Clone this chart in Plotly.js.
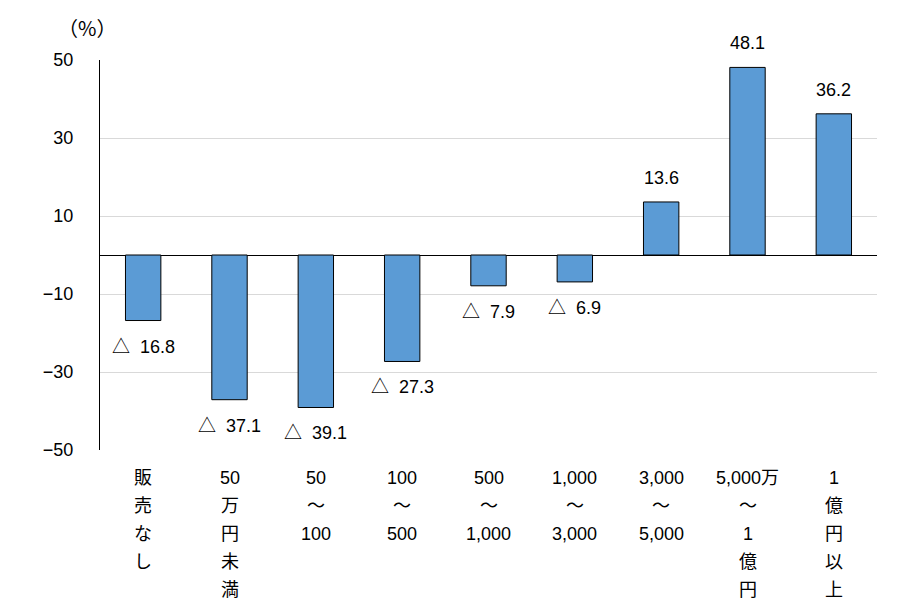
<!DOCTYPE html>
<html>
<head>
<meta charset="utf-8">
<script src="https://cdn.plot.ly/plotly-3.0.1.min.js"></script>
<style>html,body{margin:0;padding:0;background:#fff;}#chart{width:912px;height:605px;}</style>
</head>
<body>
<div id="chart"></div>
<script>
// Data
const categories = ['販売なし', '50万円未満', '50～100', '100～500', '500～1,000', '1,000～3,000', '3,000～5,000', '5,000万～1億円', '1億円以上'];
const categoryLines = [
  ['販', '売', 'な', 'し'],
  ['50', '万', '円', '未', '満'],
  ['50', '～', '100'],
  ['100', '～', '500'],
  ['500', '～', '1,000'],
  ['1,000', '～', '3,000'],
  ['3,000', '～', '5,000'],
  ['5,000万', '～', '1', '億', '円'],
  ['1', '億', '円', '以', '上']
];
const values = [-16.8, -37.1, -39.1, -27.3, -7.9, -6.9, 13.6, 48.1, 36.2];
const yTickVals = [-50, -30, -10, 10, 30, 50];
const yTickText = ['−50', '−30', '−10', '10', '30', '50'];

const FONT = 'Liberation Sans, Arial, Noto Sans CJK JP, sans-serif';
const CJK = 'Noto Sans CJK JP';

const trace = {
  type: 'bar',
  x: categories,
  y: values,
  width: 0.41,
  marker: {color: '#5B9BD5', line: {color: '#000000', width: 1}},
  hoverinfo: 'none'
};

const annotations = [];
// value labels
values.forEach((v, i) => {
  annotations.push({
    x: categories[i], y: v, xref: 'x', yref: 'y',
    text: v < 0 ? '<span style="font-family:' + CJK + '">△</span>  ' + Math.abs(v).toFixed(1) : v.toFixed(1),
    showarrow: false, xanchor: 'center', yanchor: 'middle',
    yshift: v < 0 ? -24 : 24,
    font: {family: FONT, size: 18, color: '#000'}
  });
});
// category labels (stacked lines)
categoryLines.forEach((lines, i) => {
  lines.forEach((t, j) => {
    annotations.push({
      x: categories[i], y: 0, xref: 'x', yref: 'paper',
      text: t, showarrow: false, xanchor: 'center', yanchor: 'middle',
      yshift: -(28 + j * 28),
      font: {family: FONT, size: 18, color: '#000'}
    });
  });
});
// unit label (pixel position converted to paper coords)
const plotW = 912 - 100 - 35, plotH = 605 - 60 - 155;
annotations.push({
  x: (87 - 100) / plotW, y: (605 - 155 - 27) / plotH, xref: 'paper', yref: 'paper',
  text: '（%）', showarrow: false, xanchor: 'center', yanchor: 'middle',
  font: {family: CJK, size: 20, color: '#000'}
});

const layout = {
  width: 912, height: 605,
  margin: {l: 100, r: 35, t: 60, b: 155},
  paper_bgcolor: '#fff', plot_bgcolor: '#fff',
  showlegend: false,
  font: {family: FONT, size: 18, color: '#000'},
  xaxis: {
    type: 'category',
    showticklabels: false,
    showgrid: false, zeroline: false, showline: false, ticks: '',
    fixedrange: true
  },
  yaxis: {
    range: [-50, 50],
    tickvals: yTickVals, ticktext: yTickText,
    showgrid: true, gridcolor: '#d9d9d9', gridwidth: 1,
    zeroline: true, zerolinecolor: '#000', zerolinewidth: 1,
    showline: true, linecolor: '#000', linewidth: 1,
    ticks: '', ticklabelstandoff: 22,
    tickfont: {family: FONT, size: 18, color: '#000'},
    fixedrange: true
  },
  annotations: annotations
};

Plotly.newPlot('chart', [trace], layout, {displayModeBar: false, staticPlot: true});
</script>
</body>
</html>
